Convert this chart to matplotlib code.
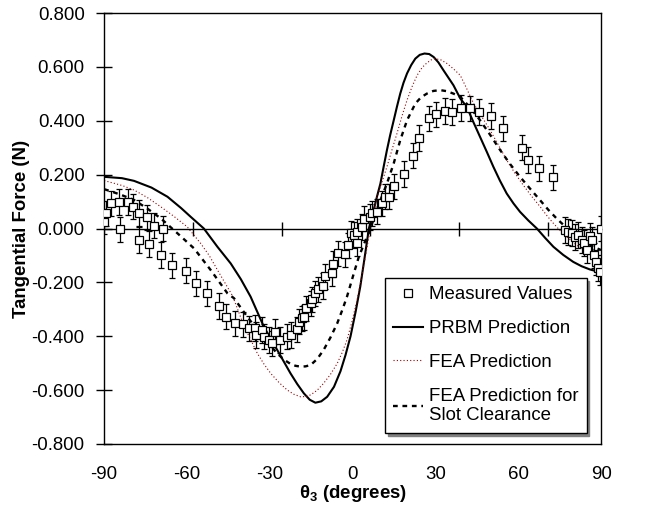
#!/usr/bin/env python3
"""Tangential force vs theta_3: measured values and model predictions."""

import matplotlib
matplotlib.use("Agg")
import matplotlib.pyplot as plt
from matplotlib.ticker import FormatStrFormatter

# Measured values (theta_3 in the data scale, force in N)
theta_meas = [-90.0, -89.5, -87.7, -84.9, -84.6, -82.1, -80.4, -78.2, -78.1, -75.6,
              -74.7, -73.1, -70.9, -70.0, -67.1, -62.4, -58.8, -55.1, -51.1, -48.7,
              -45.7, -43.0, -41.1, -39.1, -38.8, -36.6, -36.0, -34.3, -33.2, -32.1,
              -30.6, -28.1, -26.7, -24.7, -24.2, -23.1, -22.3, -21.6, -20.2, -19.7,
              -18.6, -17.8, -16.0, -15.5, -12.9, -12.6, -11.0, -8.7, -7.7, -6.7,
              -5.4, -4.5, -4.5, -2.8, -2.3, 0.0, 0.6, 2.3, 3.9, 5.1,
              6.2, 8.1, 11.5, 14.3, 16.3, 19.9, 22.2, 25.2, 27.7, 30.6,
              33.7, 36.8, 40.7, 45.0, 51.2, 53.3, 56.9, 61.8, 65.8, 66.8,
              68.2, 69.2, 70.2, 71.6, 72.2, 73.2, 74.2, 74.9, 75.6, 76.2,
              76.9, 77.6, 78.0]
force_meas = [0.025, 0.056, 0.093, 0.099, -0.003, 0.099, 0.081, 0.058, -0.043, 0.041,
              -0.058, 0.010, -0.098, 0.000, -0.137, -0.157, -0.204, -0.241, -0.288, -0.328,
              -0.352, -0.356, -0.371, -0.369, -0.396, -0.377, -0.402, -0.414, -0.426, -0.383,
              -0.414, -0.402, -0.396, -0.375, -0.346, -0.334, -0.330, -0.297, -0.278, -0.263,
              -0.241, -0.226, -0.213, -0.177, -0.167, -0.132, -0.092, -0.096, -0.062, -0.018,
              -0.024, -0.055, -0.012, 0.006, 0.037, 0.043, 0.056, 0.062, 0.093, 0.118,
              0.118, 0.157, 0.202, 0.270, 0.336, 0.409, 0.424, 0.437, 0.433, 0.448,
              0.446, 0.433, 0.418, 0.372, 0.300, 0.254, 0.223, 0.190, -0.006, -0.013,
              -0.017, -0.032, -0.024, -0.043, -0.054, -0.080, -0.028, -0.043, -0.099, -0.125,
              -0.147, -0.162, 0.000]
meas_err = 0.047

# PRBM prediction
theta_prbm = [-90.0, -84.0, -79.9, -74.0, -68.6, -64.0, -60.7, -56.3, -51.7, -47.2,
              -43.8, -40.5, -36.0, -31.5, -27.0, -24.7, -22.5, -20.5, -18.6, -16.6,
              -14.6, -12.3, -10.1, -8.4, -6.7, -5.0, -3.4, -1.9, -0.5, 1.1,
              2.2, 3.4, 4.5, 5.6, 6.7, 7.9, 9.0, 10.1, 11.2, 12.4,
              13.8, 15.2, 16.7, 18.3, 19.9, 21.4, 23.0, 24.7, 26.4, 28.1,
              30.4, 32.6, 34.8, 37.1, 39.4, 41.6, 43.8, 46.1, 48.4, 50.6,
              53.4, 56.3, 59.1, 61.9, 65.2, 68.6, 71.4, 74.2, 78.0]
force_prbm = [0.192, 0.187, 0.177, 0.152, 0.118, 0.076, 0.043, 0.000, -0.068, -0.130,
              -0.188, -0.253, -0.365, -0.451, -0.538, -0.578, -0.612, -0.636, -0.647, -0.642,
              -0.625, -0.588, -0.530, -0.470, -0.400, -0.310, -0.215, -0.105, 0.000, 0.068,
              0.117, 0.167, 0.230, 0.291, 0.347, 0.402, 0.453, 0.501, 0.541, 0.576,
              0.607, 0.631, 0.645, 0.650, 0.648, 0.637, 0.617, 0.588, 0.560, 0.532,
              0.483, 0.452, 0.396, 0.340, 0.284, 0.229, 0.178, 0.130, 0.093, 0.062,
              0.030, 0.000, -0.035, -0.068, -0.098, -0.124, -0.140, -0.152, -0.163]

# FEA prediction
theta_fea = [-90.0, -88.3, -84.0, -79.9, -75.4, -70.9, -66.4, -61.9, -57.4, -54.5,
             -51.7, -49.0, -46.6, -42.8, -40.5, -38.2, -36.0, -33.7, -30.9, -28.1,
             -25.8, -23.6, -21.9, -20.2, -18.0, -15.8, -13.5, -11.2, -9.5, -7.9,
             -6.2, -4.5, -3.4, -1.7, 0.0, 2.3, 4.0, 5.6, 7.3, 9.0,
             10.7, 12.4, 14.1, 15.8, 17.5, 19.1, 20.5, 21.9, 23.9, 25.9,
             28.1, 30.4, 32.6, 34.9, 37.7, 40.5, 43.3, 46.1, 48.9, 51.7,
             54.5, 57.4, 59.6, 61.9, 64.1, 66.4, 69.2, 72.0, 75.0, 78.0]
force_fea = [0.178, 0.173, 0.160, 0.143, 0.115, 0.081, 0.045, 0.006, -0.055, -0.100,
             -0.154, -0.205, -0.250, -0.360, -0.412, -0.464, -0.503, -0.538, -0.572, -0.600,
             -0.616, -0.625, -0.624, -0.618, -0.601, -0.575, -0.542, -0.501, -0.460, -0.414,
             -0.345, -0.266, -0.205, -0.105, 0.000, 0.118, 0.175, 0.229, 0.292, 0.353,
             0.418, 0.477, 0.527, 0.569, 0.598, 0.615, 0.626, 0.631, 0.626, 0.613,
             0.593, 0.569, 0.519, 0.464, 0.415, 0.365, 0.310, 0.254, 0.205, 0.161,
             0.120, 0.081, 0.049, 0.019, -0.007, -0.031, -0.057, -0.080, -0.100, -0.117]

# FEA prediction for slot clearance
theta_slot = [-90.0, -89.1, -84.5, -79.9, -75.4, -70.9, -65.2, -59.6, -54.0, -48.3,
              -46.1, -41.6, -38.8, -36.0, -33.7, -31.5, -29.2, -27.0, -25.3, -23.6,
              -21.9, -20.2, -18.0, -15.8, -13.5, -11.2, -9.5, -7.9, -5.6, -3.9,
              0.0, 2.5, 5.6, 7.9, 10.1, 12.4, 15.2, 17.1, 19.1, 21.3,
              23.6, 25.9, 28.1, 30.4, 33.7, 37.1, 40.5, 43.9, 47.2, 50.6,
              54.0, 57.4, 60.2, 63.0, 65.8, 68.6, 72.0, 75.4, 78.0]
force_slot = [0.146, 0.143, 0.126, 0.106, 0.074, 0.038, -0.018, -0.074, -0.154, -0.241,
              -0.259, -0.328, -0.368, -0.402, -0.436, -0.464, -0.487, -0.503, -0.510, -0.513,
              -0.512, -0.507, -0.485, -0.451, -0.405, -0.352, -0.303, -0.253, -0.167, -0.105,
              0.000, 0.080, 0.167, 0.242, 0.328, 0.402, 0.464, 0.487, 0.501, 0.511,
              0.514, 0.510, 0.501, 0.489, 0.450, 0.402, 0.348, 0.291, 0.240, 0.192,
              0.148, 0.105, 0.069, 0.037, 0.008, -0.018, -0.045, -0.068, -0.080]

# Bottom labels run -90..90 across the frame, data scale runs -90..78
label_ticks = [-90, -60, -30, 0, 30, 60, 90]
zero_ticks = [-60, -30, 0, 30, 60]
x_lo, x_hi = -90, 78


def to_label(x):
    return (x - x_lo) * 180.0 / (x_hi - x_lo) - 90


def from_label(v):
    return (v + 90) * (x_hi - x_lo) / 180.0 + x_lo


def main():
    plt.rcParams.update({
        'font.family': ['Liberation Sans', 'DejaVu Sans'],
        'font.size': 13.4,
        'axes.unicode_minus': False,
        'mathtext.fontset': 'custom',
        'mathtext.rm': 'Liberation Sans',
        'mathtext.bf': 'Liberation Sans:bold',
        'mathtext.it': 'Liberation Sans:italic',
    })

    fig = plt.figure(figsize=(6.47, 5.05), dpi=100)
    ax = fig.add_axes([0.161, 0.121, 0.768, 0.853])

    ax.errorbar(theta_meas, force_meas, yerr=meas_err, fmt='none', ecolor='black',
                elinewidth=0.9, capsize=2.2, capthick=0.9, zorder=3)
    ax.plot(theta_meas, force_meas, 's', ms=5.2, mfc='white', mec='black', mew=0.9,
            label='Measured Values', zorder=4)
    ax.plot(theta_prbm, force_prbm, '-', color='black', lw=1.5, label='PRBM Prediction', zorder=2)
    ax.plot(theta_fea, force_fea, color='#a00000', lw=0.8, ls=(0, (1, 2)),
            label='FEA Prediction', zorder=2)
    ax.plot(theta_slot, force_slot, color='black', lw=1.7, ls=(0, (2, 2)),
            label='FEA Prediction for\nSlot Clearance', zorder=2)

    ax.set_xlim(x_lo, x_hi)
    ax.set_ylim(-0.8, 0.8)
    ax.set_yticks([-0.8, -0.6, -0.4, -0.2, 0.0, 0.2, 0.4, 0.6, 0.8])
    ax.yaxis.set_major_formatter(FormatStrFormatter('%.3f'))
    ax.tick_params(axis='y', direction='inout', length=12, width=1, pad=8)

    # the zero line carries the x ticks
    ax.spines['bottom'].set_position(('data', 0))
    ax.set_xticks(zero_ticks)
    ax.tick_params(axis='x', direction='inout', length=10, width=1, labelbottom=False)
    for s in ax.spines.values():
        s.set_linewidth(1.0)

    sec = ax.secondary_xaxis('bottom', functions=(to_label, from_label))
    sec.set_xticks(label_ticks)
    sec.tick_params(length=0, pad=16)
    sec.spines['bottom'].set_linewidth(1.0)
    sec.set_xlabel(r'$\mathbf{\theta_3}$ (degrees)', fontweight='bold', labelpad=0)

    ax.set_ylabel('Tangential Force (N)', fontweight='bold', labelpad=1)

    leg = ax.legend(loc='upper left', bbox_to_anchor=(0.565, 0.385), borderaxespad=0,
                    fancybox=False, shadow={'color': '0.5', 'alpha': 1}, edgecolor='black',
                    framealpha=1, handlelength=1.6, handletextpad=0.3,
                    labelspacing=0.9, borderpad=0.45, fontsize=13.4)
    leg.get_frame().set_linewidth(1.0)

    fig.savefig('out.png', dpi=100)


if __name__ == "__main__":
    main()
